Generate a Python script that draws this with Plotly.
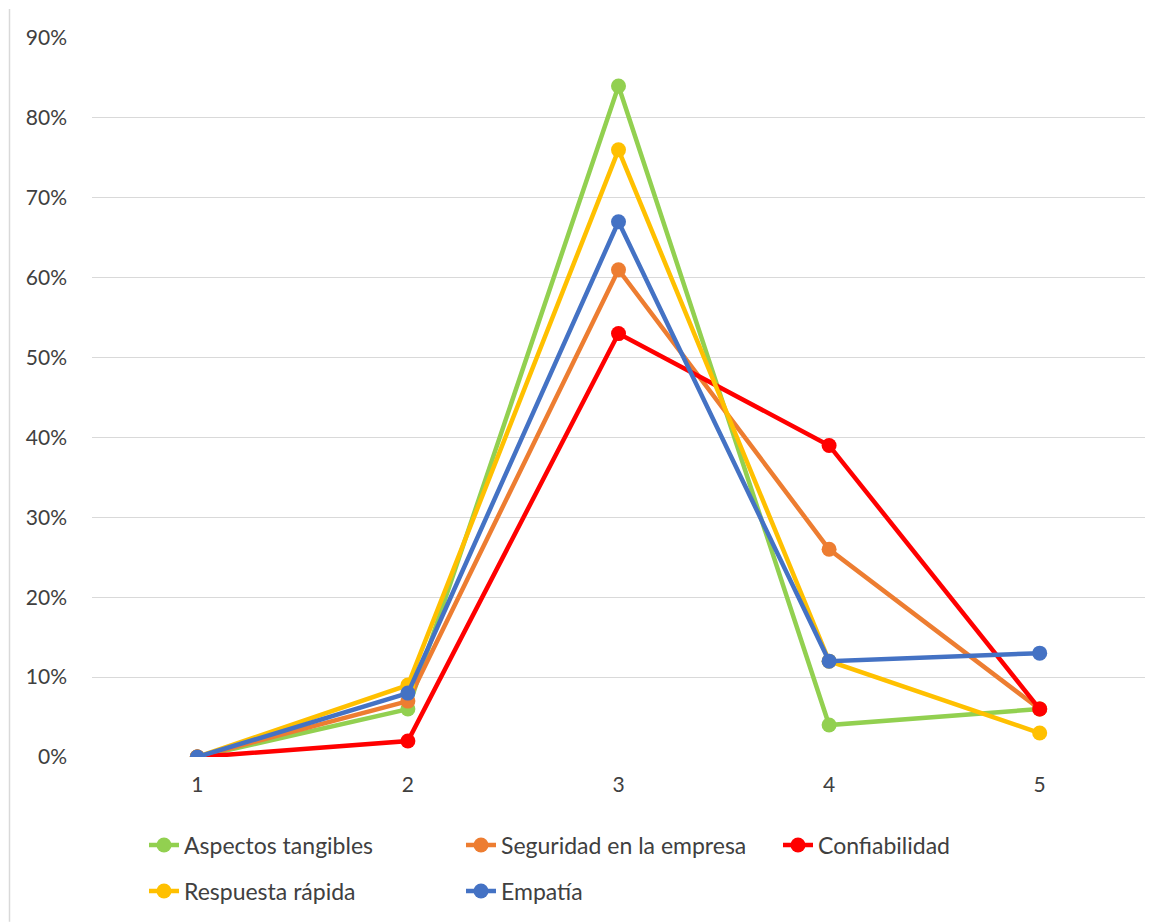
import plotly.graph_objects as go

categories = [1, 2, 3, 4, 5]
aspectos_tangibles = [0.00, 0.06, 0.84, 0.04, 0.06]
seguridad_empresa = [0.00, 0.07, 0.61, 0.26, 0.06]
confiabilidad = [0.00, 0.02, 0.53, 0.39, 0.06]
respuesta_rapida = [0.00, 0.09, 0.76, 0.12, 0.03]
empatia = [0.00, 0.08, 0.67, 0.12, 0.13]
y_tick_vals = [0, 0.1, 0.2, 0.3, 0.4, 0.5, 0.6, 0.7, 0.8, 0.9]

series = [
    ("Aspectos tangibles", aspectos_tangibles, "#92D050", "legend"),
    ("Seguridad en la empresa", seguridad_empresa, "#ED7D31", "legend"),
    ("Confiabilidad", confiabilidad, "#FF0000", "legend"),
    ("Respuesta rápida", respuesta_rapida, "#FFC000", "legend2"),
    ("Empatía", empatia, "#4472C4", "legend2"),
]

FONT = "Lato, Open Sans, sans-serif"
TXT = "#404040"

fig = go.Figure()
for name, vals, color, lg in series:
    fig.add_trace(go.Scatter(
        x=categories, y=vals, name=name, mode="lines+markers",
        line=dict(color=color, width=4.5),
        marker=dict(color=color, size=15),
        legend=lg,
    ))

OFF = 8  # page body margin
W, H = 1166, 915
L, R, T, B = 84, 29, 30, 165
pw, ph = W - L - R, H - T - B

def px_x(p):
    return (p - OFF - L) / pw

def px_y(p):
    return (OFF + T + ph - p) / ph

legend_common = dict(
    orientation="h", xanchor="left", yanchor="middle",
    entrywidth=272, entrywidthmode="pixels",
    font=dict(family=FONT, size=23, color=TXT),
    bgcolor="rgba(0,0,0,0)", itemclick=False,
)

fig.update_layout(
    width=W, height=H,
    margin=dict(l=L, r=R, t=T, b=B),
    plot_bgcolor="white", paper_bgcolor="white",
    font=dict(family=FONT, size=21, color=TXT),
    legend=dict(x=px_x(144), y=px_y(845), **legend_common),
    legend2=dict(x=px_x(144), y=px_y(891), **legend_common),
    xaxis=dict(
        range=[0.5, 5.5], tickvals=categories, ticktext=[str(c) for c in categories],
        showgrid=False, zeroline=False, showline=False, ticks="",
        ticklabelstandoff=13, tickfont=dict(family=FONT, size=21, color=TXT),
    ),
    yaxis=dict(
        range=[0, 0.9], tickvals=y_tick_vals, tickformat=".0%",
        showgrid=True, gridcolor="#D9D9D9", gridwidth=1,
        zeroline=False, showline=False, ticks="",
        ticklabelstandoff=24, tickfont=dict(family=FONT, size=21, color=TXT),
    ),
    shapes=[dict(type="line", xref="paper", yref="paper",
                 x0=px_x(9.5), x1=px_x(9.5), y0=px_y(9), y1=px_y(923),
                 line=dict(color="#D9D9D9", width=1.5))],
    showlegend=True,
)

fig.write_html("out.html")
